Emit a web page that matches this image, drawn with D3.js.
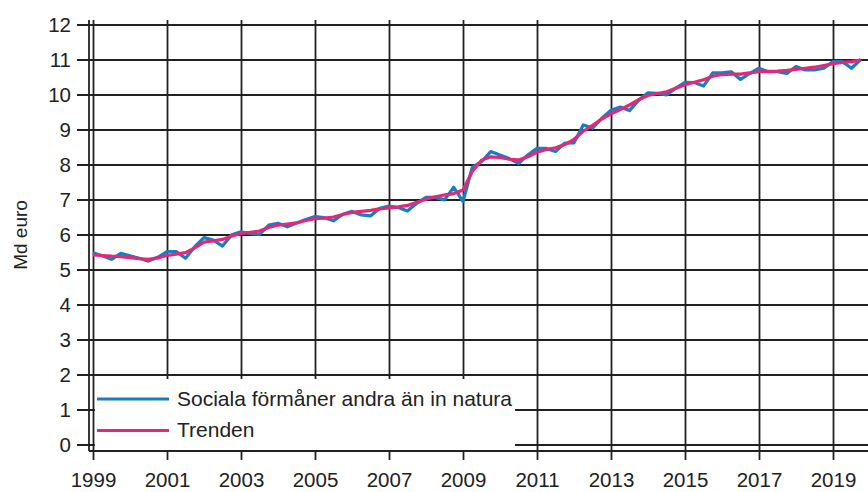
<!DOCTYPE html>
<html>
<head>
<meta charset="utf-8">
<script src="https://cdn.jsdelivr.net/npm/d3@7"></script>
<style>
  body { margin: 0; background: #fff; }
  text { font-family: "Liberation Sans", Arial, sans-serif; fill: #222; }
</style>
</head>
<body>
<div id="chart"></div>
<script>
var width = 868;
var height = 492;

// quarterly values, 1999Q1 .. 2019Q4 (Md euro)
var startYear = 1999;
var sociala = [
  5.48, 5.39, 5.29, 5.46, 5.39, 5.32, 5.24, 5.35,
  5.51, 5.51, 5.32, 5.65, 5.91, 5.84, 5.67, 5.99,
  6.08, 6.03, 6.00, 6.27, 6.32, 6.22, 6.33, 6.43,
  6.51, 6.48, 6.39, 6.58, 6.66, 6.56, 6.53, 6.75,
  6.81, 6.77, 6.67, 6.89, 7.06, 7.06, 6.99, 7.35,
  6.94, 7.92, 8.08, 8.37, 8.27, 8.17, 8.03, 8.27,
  8.46, 8.46, 8.37, 8.61, 8.62, 9.13, 9.04, 9.32,
  9.55, 9.64, 9.54, 9.84, 10.05, 10.03, 9.99, 10.18,
  10.35, 10.34, 10.24, 10.62, 10.62, 10.65, 10.43, 10.60,
  10.75, 10.65, 10.65, 10.60, 10.80, 10.70, 10.70, 10.75,
  10.94, 10.94, 10.75, 11.00
];
var trenden = [
  5.42, 5.40, 5.38, 5.37, 5.34, 5.31, 5.29, 5.33,
  5.40, 5.44, 5.48, 5.62, 5.78, 5.82, 5.86, 5.96,
  6.03, 6.06, 6.10, 6.20, 6.27, 6.30, 6.33, 6.40,
  6.45, 6.47, 6.50, 6.57, 6.63, 6.66, 6.69, 6.73,
  6.76, 6.79, 6.83, 6.92, 7.01, 7.08, 7.13, 7.17,
  7.27, 7.80, 8.12, 8.22, 8.20, 8.15, 8.13, 8.22,
  8.35, 8.43, 8.48, 8.57, 8.72, 8.95, 9.12, 9.30,
  9.45, 9.57, 9.70, 9.85, 9.97, 10.03, 10.08, 10.18,
  10.28, 10.35, 10.42, 10.52, 10.57, 10.58, 10.58, 10.62,
  10.65, 10.66, 10.67, 10.69, 10.72, 10.75, 10.78, 10.83,
  10.88, 10.92, 10.94, 10.98
];
var yearTicks = [1999, 2001, 2003, 2005, 2007, 2009, 2011, 2013, 2015, 2017, 2019];
var yTicks = [0, 1, 2, 3, 4, 5, 6, 7, 8, 9, 10, 11, 12];
var seriesNames = ["Sociala förmåner andra än in natura", "Trenden"];
var seriesColors = ["#1a7dbf", "#e3287a"];

var svg = d3.select("#chart")
  .append("svg")
  .attr("width", width)
  .attr("height", height);

var x = d3.scaleLinear().domain([1999, 2020]).range([93, 870]);
var y = d3.scaleLinear().domain([0, 12]).range([444.5, 24.5]);

var plotLeft = 89;     // y axis line
var plotBottom = 451;  // x axis line
var plotTop = 20;

var gridColor = "#222";

// horizontal grid + y ticks
var yAxis = d3.axisLeft(y)
  .tickValues(yTicks)
  .tickSize(12)
  .tickPadding(6)
  .tickFormat(d3.format("d"));

var gy = svg.append("g")
  .attr("transform", "translate(" + plotLeft + ",0)")
  .call(yAxis);
gy.select(".domain").remove();
gy.selectAll(".tick line")
  .attr("x2", width - plotLeft)
  .attr("x1", -12)
  .attr("stroke", gridColor)
  .attr("stroke-width", 1.8);
gy.selectAll(".tick text")
  .style("font-size", "20.5px")
  .attr("x", -18);

// vertical grid + x ticks
var xAxis = d3.axisBottom(x)
  .tickValues(yearTicks)
  .tickSize(9)
  .tickPadding(12)
  .tickFormat(d3.format("d"));

var gx = svg.append("g")
  .attr("transform", "translate(0," + plotBottom + ")")
  .call(xAxis);
gx.select(".domain").remove();
gx.selectAll(".tick line")
  .attr("y1", plotTop - plotBottom)
  .attr("y2", 9)
  .attr("stroke", gridColor)
  .attr("stroke-width", 1.8);
gx.selectAll(".tick text")
  .style("font-size", "20.5px");

// y axis line
svg.append("line")
  .attr("x1", plotLeft).attr("x2", plotLeft)
  .attr("y1", plotTop).attr("y2", plotBottom)
  .attr("stroke", gridColor).attr("stroke-width", 1.8);

// legend background
svg.append("rect")
  .attr("x", 95)
  .attr("y", 379)
  .attr("width", 420)
  .attr("height", plotBottom - 379 - 1)
  .attr("fill", "#fff");

// x axis line
svg.append("line")
  .attr("x1", plotLeft).attr("x2", width)
  .attr("y1", plotBottom).attr("y2", plotBottom)
  .attr("stroke", gridColor).attr("stroke-width", 1.8);

// series
var line = d3.line()
  .x(function(d, i) { return x(startYear + i / 4); })
  .y(function(d) { return y(d); });

[sociala, trenden].forEach(function(s, k) {
  svg.append("path")
    .datum(s)
    .attr("d", line)
    .attr("fill", "none")
    .attr("stroke", seriesColors[k])
    .attr("stroke-width", 3.2)
    .attr("stroke-linejoin", "round");
});

// legend
var legend = svg.append("g");
seriesNames.forEach(function(name, k) {
  var ly = 399 + k * 31.5;
  legend.append("line")
    .attr("x1", 97).attr("x2", 169)
    .attr("y1", ly).attr("y2", ly)
    .attr("stroke", seriesColors[k])
    .attr("stroke-width", 3.2);
  legend.append("text")
    .attr("x", 177)
    .attr("y", ly + 6.5)
    .style("font-size", "21px")
    .text(name);
});

// y axis title
svg.append("text")
  .attr("transform", "translate(27,235) rotate(-90)")
  .attr("text-anchor", "middle")
  .style("font-size", "19px")
  .text("Md euro");
</script>
</body>
</html>
